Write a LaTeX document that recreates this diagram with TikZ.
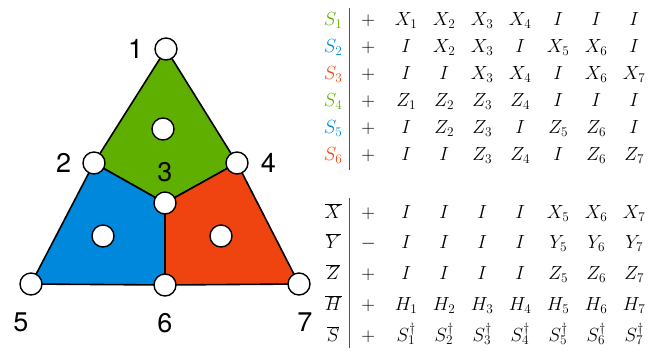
\documentclass[tikz,border=0pt]{standalone}
\usepackage{fix-cm}
\usepackage{fontspec}
\newfontfamily\digitfont{TeX Gyre Heros}
\usetikzlibrary{positioning,matrix}
\definecolor{facegreen}{HTML}{5FAF00}
\definecolor{faceblue}{HTML}{0088DD}
\definecolor{facered}{HTML}{F04410}
\definecolor{bargray}{HTML}{555555}

\begin{document}
\begin{tikzpicture}[x=1pt,y=-1pt,
 vertex/.style={circle,draw,fill=white,line width=1.4pt,minimum size=22pt,inner sep=0pt},
 face/.style={draw,line width=1.6pt,line join=round},
 num/.style={font=\digitfont\fontsize{27}{27}\selectfont,inner sep=0pt},
 stab/.style={matrix of math nodes,inner sep=0pt,column sep=0pt,
   nodes={font=\fontsize{19}{22}\selectfont,minimum width=38pt,text height=13pt,text depth=5pt,inner sep=0pt},
   column 1/.style={nodes={minimum width=32pt}}},
 bar/.style={draw=bargray,line width=1.2pt}]
 \useasboundingbox (0,0) rectangle (668,354);
 % colour code
 \coordinate (p1) at (166,49);
 \coordinate (p2) at (94,163);
 \coordinate (p3) at (165,203);
 \coordinate (p4) at (237,163);
 \coordinate (p5) at (31,284);
 \coordinate (p6) at (165,285);
 \coordinate (p7) at (299,284);
 \path[face,fill=facegreen] (p1) -- (p4) -- (p3) -- (p2) -- cycle;
 \path[face,fill=faceblue] (p2) -- (p3) -- (p6) -- (p5) -- cycle;
 \path[face,fill=facered] (p3) -- (p4) -- (p7) -- (p6) -- cycle;
 \foreach \i in {1,...,7}
  \node[vertex] (v\i) at (p\i) {};
 \node[vertex] (cg) at (163,129) {};
 \node[vertex] (cb) at (103,236) {};
 \node[vertex] (cr) at (221,236) {};
 \node[num,left=11pt of v1] (n1) {1};
 \node[num,left=11pt of v2] (n2) {2};
 \node[num,above=9pt of v3] (n3) {3};
 \node[num,right=12pt of v4] (n4) {4};
 \node[num,below=17pt of v5,xshift=-10pt] (n5) {5};
 \node[num,below=16pt of v6] (n6) {6};
 \node[num,below=17pt of v7,xshift=6pt] (n7) {7};
 % stabilizers
 \matrix (gens) [stab,row sep=9pt,anchor=north west] at (317,12.7) {
  \color{facegreen}S_1 & + & X_1 & X_2 & X_3 & X_4 & I & I & I \\
  \color{faceblue}S_2 & + & I & X_2 & X_3 & I & X_5 & X_6 & I \\
  \color{facered}S_3 & + & I & I & X_3 & X_4 & I & X_6 & X_7 \\
  \color{facegreen}S_4 & + & Z_1 & Z_2 & Z_3 & Z_4 & I & I & I \\
  \color{faceblue}S_5 & + & I & Z_2 & Z_3 & I & Z_5 & Z_6 & I \\
  \color{facered}S_6 & + & I & I & Z_3 & Z_4 & I & Z_6 & Z_7 \\
 };
 % logical operators
 \matrix (logs) [stab,row sep=12.75pt,anchor=north west] at (317,205) {
  \overline{X} & + & I & I & I & I & X_5 & X_6 & X_7 \\
  \overline{Y} & - & I & I & I & I & Y_5 & Y_6 & Y_7 \\
  \overline{Z} & + & I & I & I & I & Z_5 & Z_6 & Z_7 \\
  \overline{H} & + & H_1 & H_2 & H_3 & H_4 & H_5 & H_6 & H_7 \\
  \overline{S} & + & S_1^\dagger & S_2^\dagger & S_3^\dagger & S_4^\dagger & S_5^\dagger & S_6^\dagger & S_7^\dagger \\
 };
 \draw[bar,shorten <=-5pt,shorten >=-4pt] (gens-1-1.north east) -- (gens-6-1.south east);
 \draw[bar,shorten <=-7pt,shorten >=-2pt] (logs-1-1.north east) -- (logs-5-1.south east);
\end{tikzpicture}
\end{document}
